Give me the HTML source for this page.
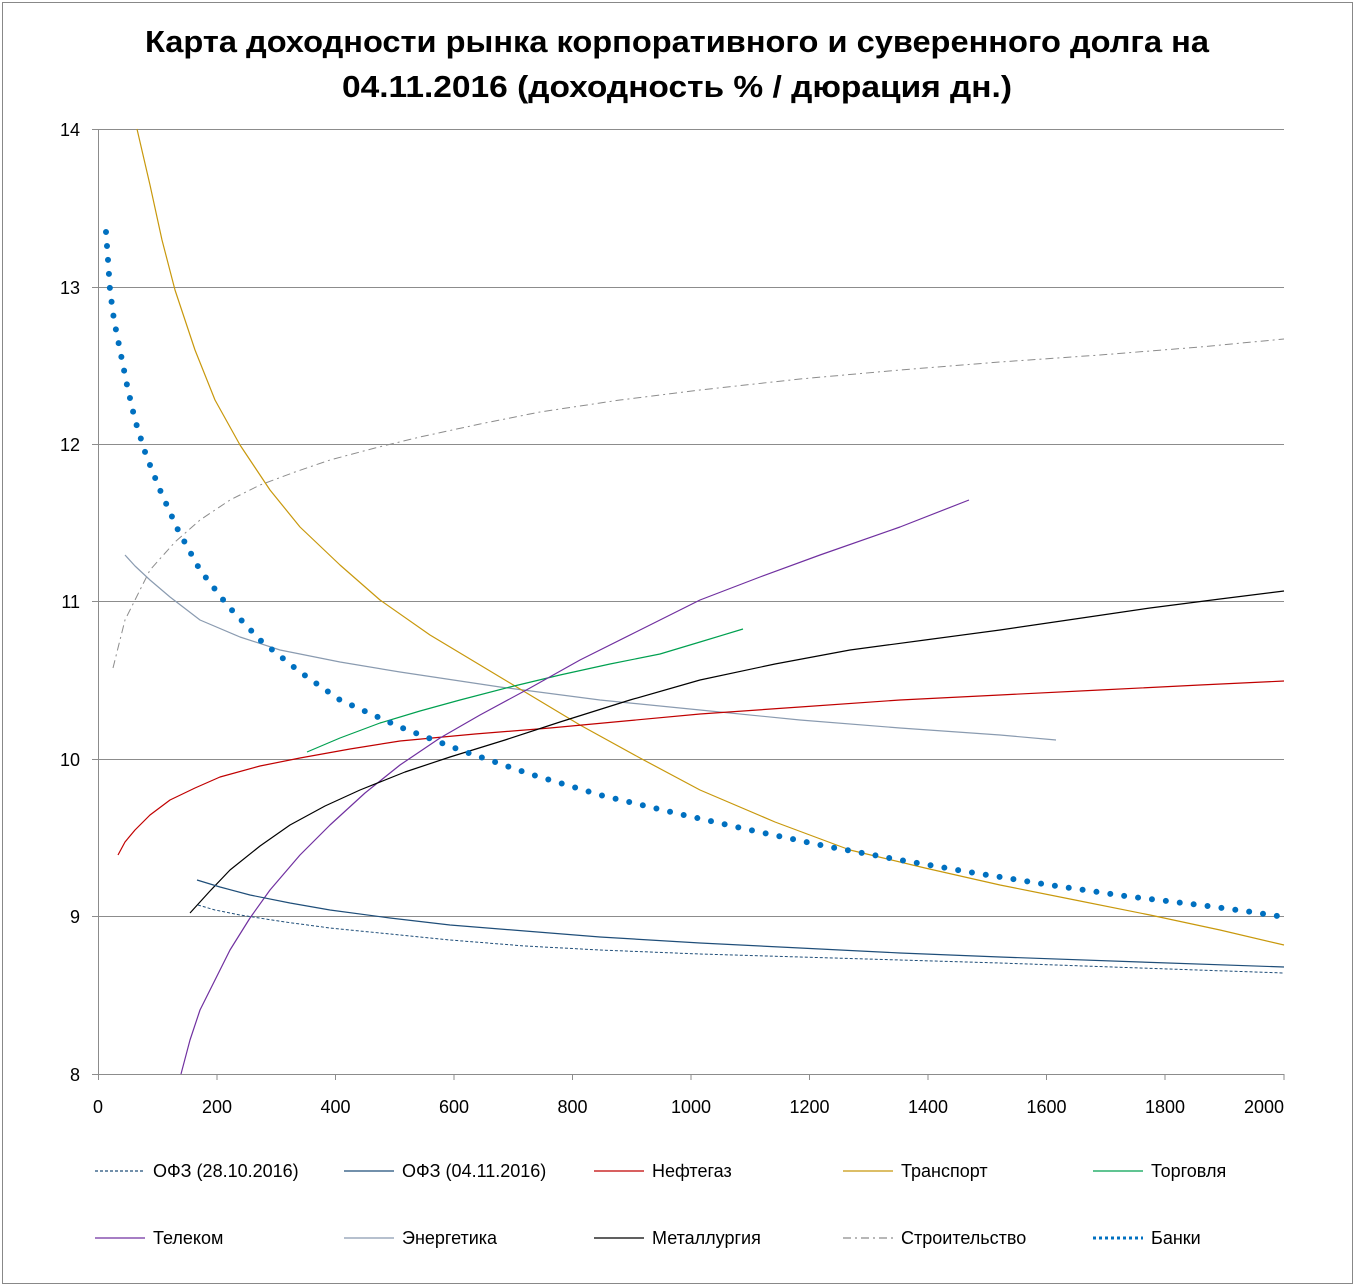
<!DOCTYPE html>
<html><head><meta charset="utf-8"><style>
html,body{margin:0;padding:0;background:#fff;}
svg{display:block;font-family:"Liberation Sans",sans-serif;}
</style></head><body>
<svg width="1355" height="1286" viewBox="0 0 1355 1286" xmlns="http://www.w3.org/2000/svg">
<rect x="2.5" y="2.5" width="1350" height="1281" fill="#fff" stroke="#888" stroke-width="1"/>
<g font-weight="bold" font-size="31" text-anchor="middle" fill="#000">
<text x="677" y="52" textLength="1064" lengthAdjust="spacingAndGlyphs">Карта доходности рынка корпоративного и суверенного долга на</text>
<text x="677" y="97" textLength="670" lengthAdjust="spacingAndGlyphs">04.11.2016 (доходность % / дюрация дн.)</text>
</g>
<g stroke="#8c8c8c" stroke-width="1">
<line x1="98" y1="129.5" x2="1284" y2="129.5"/>
<line x1="98" y1="287.5" x2="1284" y2="287.5"/>
<line x1="98" y1="444.5" x2="1284" y2="444.5"/>
<line x1="98" y1="601.5" x2="1284" y2="601.5"/>
<line x1="98" y1="759.5" x2="1284" y2="759.5"/>
<line x1="98" y1="916.5" x2="1284" y2="916.5"/>
<line x1="98" y1="1074.5" x2="1284" y2="1074.5"/>
<line x1="98.5" y1="129" x2="98.5" y2="1080"/>
<line x1="92" y1="129.5" x2="98" y2="129.5"/><line x1="92" y1="287.5" x2="98" y2="287.5"/>
<line x1="92" y1="444.5" x2="98" y2="444.5"/><line x1="92" y1="601.5" x2="98" y2="601.5"/>
<line x1="92" y1="759.5" x2="98" y2="759.5"/><line x1="92" y1="916.5" x2="98" y2="916.5"/>
<line x1="92" y1="1074.5" x2="98" y2="1074.5"/>
<line x1="217" y1="1074" x2="217" y2="1080"/><line x1="335.5" y1="1074" x2="335.5" y2="1080"/>
<line x1="454" y1="1074" x2="454" y2="1080"/><line x1="572.5" y1="1074" x2="572.5" y2="1080"/>
<line x1="691" y1="1074" x2="691" y2="1080"/><line x1="809.5" y1="1074" x2="809.5" y2="1080"/>
<line x1="928" y1="1074" x2="928" y2="1080"/><line x1="1046.5" y1="1074" x2="1046.5" y2="1080"/>
<line x1="1165" y1="1074" x2="1165" y2="1080"/><line x1="1284" y1="1074" x2="1284" y2="1080"/>
</g>
<g font-size="18" fill="#000" text-anchor="end">
<text x="80" y="136">14</text><text x="80" y="294">13</text><text x="80" y="451">12</text>
<text x="80" y="608">11</text><text x="80" y="766">10</text><text x="80" y="923">9</text><text x="80" y="1081">8</text>
</g>
<g font-size="18" fill="#000" text-anchor="middle">
<text x="98" y="1113">0</text><text x="217" y="1113">200</text><text x="335.5" y="1113">400</text>
<text x="454" y="1113">600</text><text x="572.5" y="1113">800</text><text x="691" y="1113">1000</text>
<text x="809.5" y="1113">1200</text><text x="928" y="1113">1400</text><text x="1046.5" y="1113">1600</text>
<text x="1165" y="1113">1800</text><text x="1264" y="1113">2000</text>
</g>
<g fill="none" stroke-linejoin="round">
<polyline stroke="#8c8c8c" stroke-width="1" stroke-dasharray="8 4 2 4" points="113,668 125,620 150,570 175,542 200,520 230,500 260,485 295,472 330,460 375,448 420,437 480,424 540,412 620,400 700,390 800,379 900,370 1000,362 1100,355 1200,347 1284,339"/>
<polyline stroke="#8a9bb0" stroke-width="1.2" points="125,555 135,566 150,580 170,597 200,620 240,637 280,650 340,662 400,672 500,687 600,700 700,710 800,720 900,728 1000,735 1056,740"/>
<polyline stroke="#c8980c" stroke-width="1.2" points="137,129 150,185 162,240 175,290 195,350 215,400 240,445 270,490 300,527 340,565 380,600 430,635 480,665 530,695 580,725 640,758 700,790 775,822 850,850 925,868 1000,885 1075,900 1150,915 1220,930 1284,945"/>
<polyline stroke="#00a050" stroke-width="1.2" points="307,752 340,738 380,723 420,711 460,700 510,687 560,675 610,664 660,654 700,642 743,629"/>
<polyline stroke="#c00000" stroke-width="1.2" points="118,855 125,842 135,830 150,815 170,800 195,788 220,777 260,766 300,758 350,749 400,741 475,734 550,728 625,721 700,714 800,707 900,700 1000,695 1100,690 1200,685 1284,681"/>
<polyline stroke="#7030a0" stroke-width="1.2" points="181,1074 190,1040 200,1010 215,980 230,950 250,918 270,890 300,855 330,825 365,793 400,765 440,738 480,715 530,688 580,660 640,630 700,600 760,577 820,555 900,527 969,500"/>
<polyline stroke="#000" stroke-width="1.2" points="190,913 210,891 230,870 260,846 290,825 325,806 360,790 405,772 450,757 505,740 560,722 630,700 700,680 775,664 850,650 925,640 1000,630 1075,619 1150,608 1220,599 1284,591"/>
<polyline stroke="#1f4e79" stroke-width="1.2" points="197,880 220,887 250,895 290,903 330,910 390,918 450,925 525,931 600,937 700,943 800,948 900,953 1000,957 1140,962 1284,967"/>
<polyline stroke="#1f4e79" stroke-width="1" stroke-dasharray="3 2" points="198,905 215,910 240,915 285,922 330,928 390,934 450,940 525,946 600,950 700,954 800,957 900,960 1000,963 1140,968 1284,973"/>
<polyline stroke="#0070c0" stroke-width="6" stroke-linecap="round" stroke-dasharray="0 14" points="106,232 108,260 110,290 114,320 120,350 127,385 135,420 146,455 160,490 178,530 200,570 228,606 260,640 300,672 340,700 400,727 460,750 530,774 600,795 675,813 750,830 825,846 900,860 975,873 1050,885 1125,896 1200,905 1245,911 1284,917"/>
</g>
<g stroke-width="1.3" fill="none">
<line x1="95" y1="1171" x2="145" y2="1171" stroke="#1f4e79" stroke-dasharray="3 2"/>
<line x1="344" y1="1171" x2="394" y2="1171" stroke="#1f4e79"/>
<line x1="594" y1="1171" x2="644" y2="1171" stroke="#c00000"/>
<line x1="843" y1="1171" x2="893" y2="1171" stroke="#c8980c"/>
<line x1="1093" y1="1171" x2="1143" y2="1171" stroke="#00a050"/>
<line x1="95" y1="1238" x2="145" y2="1238" stroke="#7030a0"/>
<line x1="344" y1="1238" x2="394" y2="1238" stroke="#8a9bb0"/>
<line x1="594" y1="1238" x2="644" y2="1238" stroke="#000"/>
<line x1="843" y1="1238" x2="893" y2="1238" stroke="#8c8c8c" stroke-dasharray="8 4 2 4"/>
<line x1="1093" y1="1238" x2="1143" y2="1238" stroke="#0070c0" stroke-width="3" stroke-dasharray="3 3"/>
</g>
<g font-size="18" fill="#000">
<text x="153" y="1177">ОФЗ (28.10.2016)</text>
<text x="402" y="1177">ОФЗ (04.11.2016)</text>
<text x="652" y="1177">Нефтегаз</text>
<text x="901" y="1177">Транспорт</text>
<text x="1151" y="1177">Торговля</text>
<text x="153" y="1244">Телеком</text>
<text x="402" y="1244">Энергетика</text>
<text x="652" y="1244">Металлургия</text>
<text x="901" y="1244">Строительство</text>
<text x="1151" y="1244">Банки</text>
</g>
</svg>
</body></html>
